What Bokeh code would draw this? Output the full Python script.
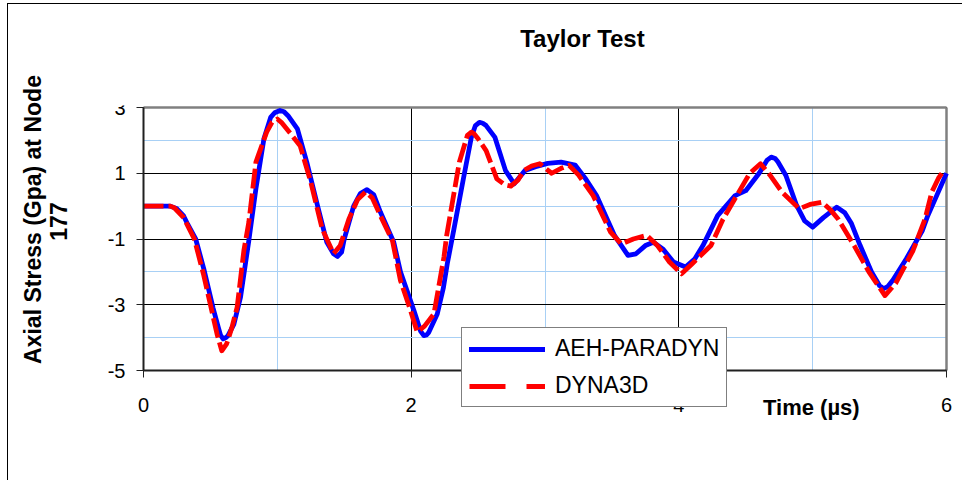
import math
from bokeh.plotting import figure
from bokeh.models import Range1d, FixedTicker, Label, Legend, LegendItem
from bokeh.embed import file_html
from bokeh.resources import INLINE

# ---- data ----
aeh_t = [0.00, 0.10, 0.20, 0.25, 0.30, 0.33, 0.39, 0.45, 0.52, 0.56, 0.575, 0.595, 0.615, 0.63, 0.675, 0.725,
         0.787, 0.84, 0.90, 0.95, 0.98, 1.02, 1.05, 1.08, 1.15, 1.22, 1.30, 1.37, 1.42, 1.45, 1.48, 1.50, 1.57, 1.62,
         1.67, 1.72, 1.77, 1.87, 1.92, 2.02, 2.07, 2.095, 2.115, 2.13, 2.195, 2.24, 2.27, 2.32, 2.39, 2.45,
         2.48, 2.51, 2.535, 2.56, 2.625, 2.705, 2.77, 2.85, 2.93, 3.02, 3.12, 3.225, 3.30, 3.385, 3.52,
         3.62, 3.68, 3.75, 3.81, 3.88, 3.96, 4.05, 4.12, 4.18, 4.29, 4.42, 4.50, 4.60, 4.66, 4.69,
         4.72, 4.74, 4.80, 4.88, 4.94, 5.00, 5.08, 5.18, 5.24, 5.29, 5.355, 5.44, 5.50, 5.53, 5.56, 5.60, 5.70,
         5.82, 5.86, 5.93, 6.00]
aeh_v = [0.00, 0.00, 0.00, -0.08, -0.30, -0.55, -1.00, -1.90, -3.10, -3.70, -3.92, -4.04, -4.00, -3.95, -3.60, -2.77,
         -1.05, 0.53, 2.05, 2.70, 2.84, 2.91, 2.87, 2.75, 2.35, 1.34, 0.02, -1.10, -1.45, -1.53, -1.40, -1.00, 0.00, 0.38,
         0.50, 0.35, -0.18, -1.10, -2.00, -3.17, -3.80, -3.94, -3.92, -3.85, -3.28, -2.50, -1.75, -0.69, 0.83, 2.10,
         2.45, 2.55, 2.52, 2.45, 2.10, 1.08, 0.68, 1.08, 1.20, 1.30, 1.34, 1.25, 0.85, 0.32, -0.90,
         -1.50, -1.45, -1.20, -1.10, -1.30, -1.70, -1.85, -1.60, -1.20, -0.29, 0.32, 0.47, 1.00, 1.40, 1.49,
         1.45, 1.35, 0.93, 0.02, -0.45, -0.64, -0.35, -0.03, -0.20, -0.53, -1.20, -2.00, -2.42, -2.51, -2.45, -2.25, -1.60,
         -0.74, -0.29, 0.35, 1.00]

dyna_t = [0.00, 0.10, 0.20, 0.23, 0.30, 0.38, 0.45, 0.50, 0.55, 0.585, 0.62, 0.66, 0.70, 0.75,
          0.787, 0.84, 0.92, 0.96, 1.00, 1.03, 1.08, 1.17, 1.25, 1.335, 1.42, 1.47, 1.535, 1.60, 1.66, 1.71,
          1.77, 1.86, 1.92, 1.995, 2.045, 2.10, 2.17, 2.245, 2.265, 2.36, 2.42, 2.45, 2.47, 2.50, 2.56, 2.64,
          2.70, 2.745, 2.80, 2.84, 2.90, 2.96, 3.05, 3.12, 3.18, 3.25, 3.36, 3.49, 3.57, 3.66,
          3.76, 3.84, 3.93, 4.02, 4.10, 4.24, 4.33, 4.42, 4.53, 4.61, 4.68, 4.77, 4.90, 4.98,
          5.07, 5.13, 5.19, 5.31, 5.42, 5.54, 5.62, 5.75, 5.84, 5.89, 5.94, 5.98]
dyna_v = [0.00, 0.00, 0.00, -0.05, -0.35, -1.00, -2.10, -3.00, -3.90, -4.40, -4.20, -3.70, -3.07, -1.35,
          -0.49, 1.34, 2.25, 2.55, 2.65, 2.55, 2.30, 1.84, 0.73, -0.69, -1.45, -1.20, -0.39, 0.20, 0.43, 0.25,
          -0.29, -1.05, -2.26, -3.17, -3.83, -3.65, -3.28, -1.55, -0.90, 1.34, 2.15, 2.25, 2.20, 2.05, 1.69, 0.83,
          0.65, 0.61, 0.80, 1.08, 1.22, 1.29, 1.00, 1.15, 1.24, 0.95, 0.32, -0.79, -1.15, -1.00,
          -0.89, -1.20, -1.70, -2.06, -1.75, -1.20, -0.40, 0.23, 1.00, 1.29, 0.95, 0.43, -0.08, 0.05,
          0.12, -0.10, -0.39, -1.20, -2.00, -2.72, -2.35, -1.35, -0.39, 0.43, 0.85, 1.08]

x_ticks = [0, 2, 4, 6]
x_minor = [1, 3, 5]
y_ticks = [-5, -3, -1, 1, 3]
y_minor = [-4, -2, 0, 2]

series_names = ["AEH-PARADYN", "DYNA3D"]
title_text = "Taylor Test"
x_title = "Time (\u00b5s)"
y_title_1 = "Axial Stress (Gpa) at Node"
y_title_2 = "177"

FONT = "Liberation Sans"

# ---- layout constants (pixels) ----
PX_X = 803 / 6.0       # pixels per time unit
PX_Y = 263 / 8.0       # pixels per stress unit
PAD_LEFT = 40          # frame extends left of x=0 (room for y tick labels)
PAD_RIGHT = 8          # frame extends right of x=6 (room for the last x tick label)
PAD_TOP = 2            # frame extends above y=3
PAD_BOTTOM = 52        # frame extends below y=-5 (legend, x title)

x0, x1 = x_ticks[0], x_ticks[-1]
y0, y1 = y_ticks[0], y_ticks[-1]

p = figure(width=955, height=477, output_backend="svg", toolbar_location=None,
           x_range=Range1d(x0 - PAD_LEFT / PX_X, x1 + PAD_RIGHT / PX_X),
           y_range=Range1d(y0 - PAD_BOTTOM / PX_Y, y1 + PAD_TOP / PX_Y),
           min_border_left=95, min_border_right=9, min_border_top=101, min_border_bottom=59)
p.styles = {"margin-left": "7px", "margin-top": "3px",
            "border-left": "1px solid #000", "border-top": "1px solid #000"}
p.title.visible = False
p.background_fill_color = "white"
p.border_fill_color = "white"
p.outline_line_color = None

# axes
p.xaxis.ticker = FixedTicker(ticks=x_ticks, minor_ticks=x_minor)
p.yaxis.ticker = FixedTicker(ticks=y_ticks, minor_ticks=y_minor)
p.xaxis.fixed_location = y0
p.yaxis.fixed_location = x0
p.yaxis.bounds = (y0, y1)
p.xaxis.bounds = (x0, x1)
for ax in (p.xaxis[0], p.yaxis[0]):
    ax.axis_line_color = "#202020"
    ax.axis_line_width = 2
    ax.major_tick_line_color = "#202020"
    ax.major_tick_line_width = 1
    ax.major_tick_out = 7
    ax.major_tick_in = 0
    ax.minor_tick_line_color = None
    ax.major_label_text_font = FONT
    ax.major_label_text_font_size = "20px"
    ax.major_label_text_color = "black"
p.xaxis.major_label_standoff = 20
p.yaxis.major_label_standoff = 11
p.yaxis.major_label_overrides = {t: str(t) for t in y_ticks}

# grids
p.xgrid.grid_line_color = "black"
p.xgrid.grid_line_width = 1
p.xgrid.minor_grid_line_color = "#A8D0F5"
p.xgrid.minor_grid_line_width = 1
p.xgrid.cross_bounds = (y0, y1)
p.ygrid.grid_line_color = "black"
p.ygrid.grid_line_width = 1
p.ygrid.minor_grid_line_color = "#A8D0F5"
p.ygrid.minor_grid_line_width = 1
p.ygrid.cross_bounds = (x0, x1)

# plot-area border (top and right, grey)
p.segment(x0=[x0, x1], y0=[y1, y0], x1=[x1, x1], y1=[y1, y1],
          line_color="#808080", line_width=2.5)

# data lines
p.line(aeh_t, aeh_v, line_color="#0000FF", line_width=4.8, line_join="round")
p.line(dyna_t, dyna_v, line_color="#FF0000", line_width=4.8, line_dash="20 5", line_join="round")

# legend-only renderers (no visible data)
nan = float("nan")
lg_a = p.line([nan], [nan], line_color="#0000FF", line_width=5, line_cap="round")
lg_d = p.line([nan], [nan], line_color="#FF0000", line_width=5, line_dash="36 21")
legend = Legend(items=[LegendItem(label=series_names[0], renderers=[lg_a]),
                       LegendItem(label=series_names[1], renderers=[lg_d])],
                location=(358, 15))
legend.border_line_color = "black"
legend.border_line_width = 1
legend.background_fill_color = "white"
legend.background_fill_alpha = 1
legend.label_text_font = FONT
legend.label_text_font_size = "23px"
legend.label_text_color = "black"
legend.glyph_width = 76
legend.glyph_height = 24
legend.label_height = 24
legend.label_standoff = 10
legend.padding = 7
legend.spacing = 10
legend.margin = 0
p.add_layout(legend, "center")

# text positions (data units of the chart's own scales)
TITLE_POS = (3.28, 5.099)
XTITLE_POS = (4.99, -6.125)
YTITLE1_POS = (-0.829, -0.407)
YTITLE2_POS = (-0.635, -0.468)

p.add_layout(Label(x=TITLE_POS[0], y=TITLE_POS[1], text=title_text, text_color="black",
                   text_font=FONT, text_font_size="24px", text_font_style="bold",
                   text_align="center", text_baseline="alphabetic"), "above")
p.add_layout(Label(x=XTITLE_POS[0], y=XTITLE_POS[1], text=x_title, text_color="black",
                   text_font=FONT, text_font_size="22px", text_font_style="bold",
                   text_align="center", text_baseline="alphabetic"))
p.add_layout(Label(x=YTITLE1_POS[0], y=YTITLE1_POS[1], text=y_title_1, text_color="black",
                   text_font=FONT, text_font_size="23px", text_font_style="bold",
                   text_align="center", text_baseline="alphabetic", angle=math.pi / 2), "left")
p.add_layout(Label(x=YTITLE2_POS[0], y=YTITLE2_POS[1], text=y_title_2, text_color="black",
                   text_font=FONT, text_font_size="23px", text_font_style="bold",
                   text_align="center", text_baseline="alphabetic", angle=math.pi / 2), "left")

open("out.html", "w").write(file_html(p, INLINE))
